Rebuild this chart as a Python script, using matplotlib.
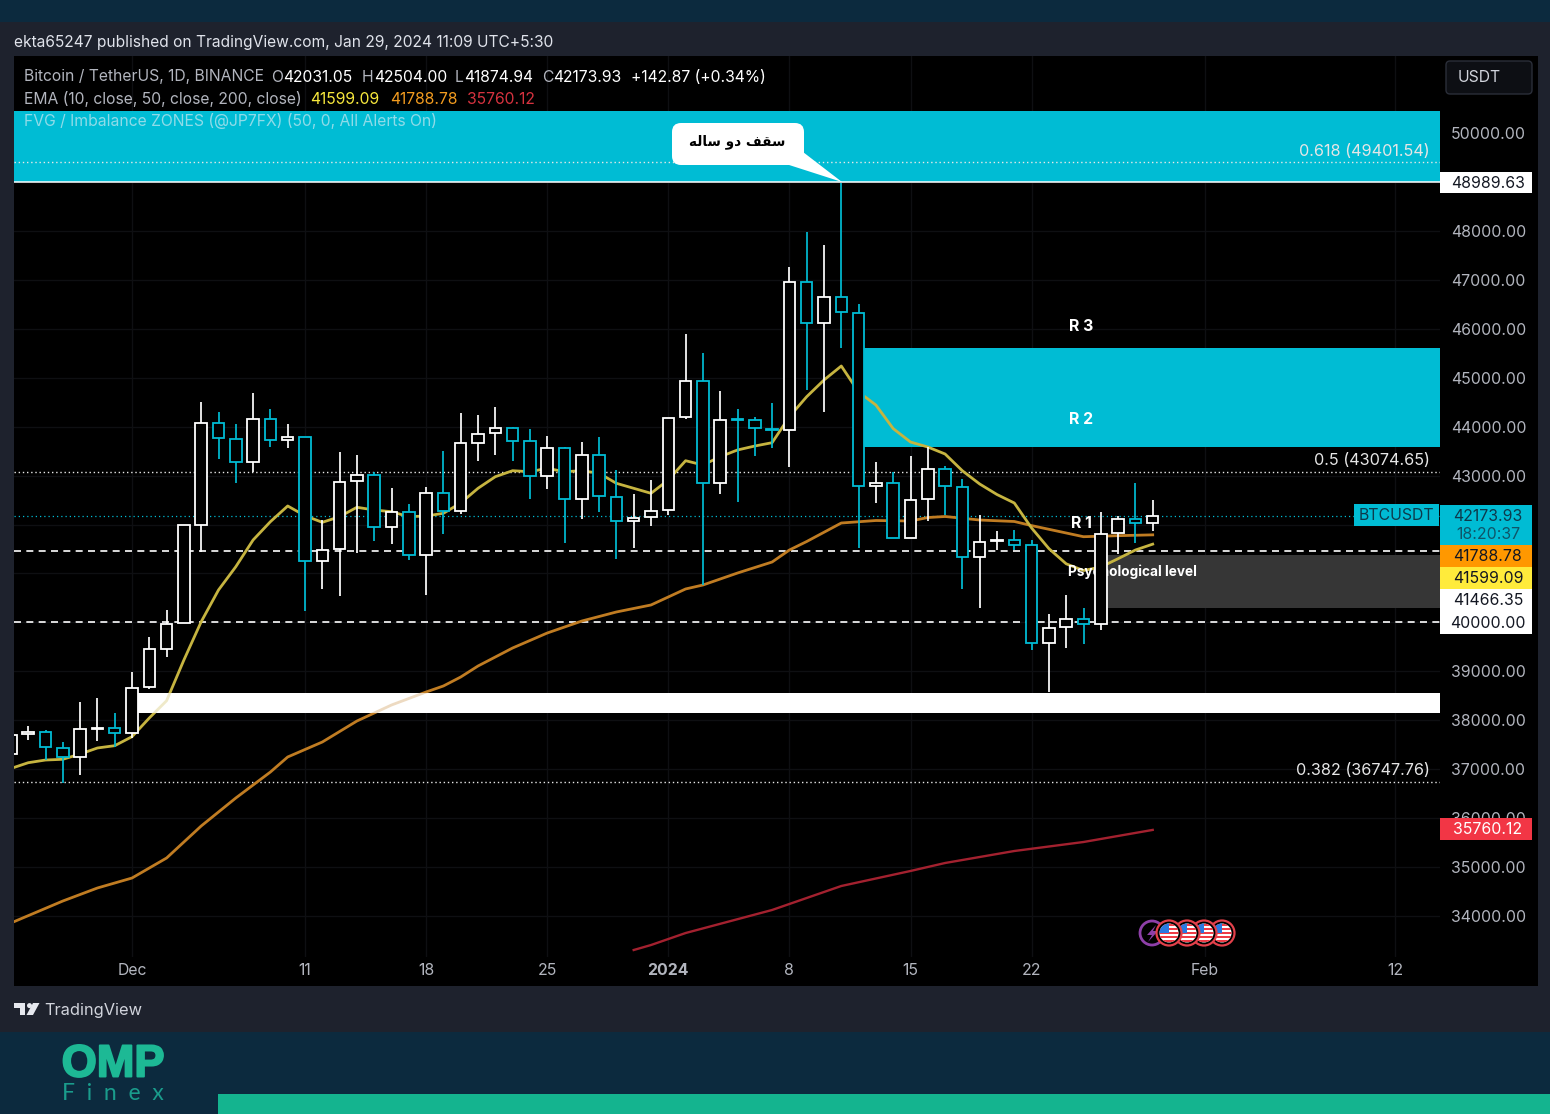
import matplotlib
matplotlib.use("Agg")
import matplotlib.pyplot as plt
import matplotlib.patheffects as pe
from matplotlib.patches import Rectangle, Circle, FancyBboxPatch, Polygon

plt.rcParams['font.family'] = ['Inter', 'DejaVu Sans']

# ---------- data ----------
days = list(range(-7, 60))
opens = [37311,37720,37767,37440,37244,37822,37836,37734,38680,39456,39982,41996,44068,43747,43284,44162,43721,43782,41261,41494,42883,43018,41943,42262,41387,42650,42276,43672,43864,43966,43700,42998,43563,42515,43414,42562,42072,42147,42290,44191,44939,42848,44156,44136,43958,43931,46949,46114,46653,46330,42787,42842,41731,42524,43135,42773,41336,41663,41688,41578,39575,39900,40071,39967,41819,42117,42031]
highs = [37801,37883,37801,37562,38380,38455,38149,38993,39708,40254,41990,44497,44293,44048,44693,44360,44048,43782,42092,43476,43427,43079,42740,42419,42762,43502,44285,44244,44407,43990,43946,43809,43590,43680,43794,43114,42618,42910,44177,45893,45499,44734,44360,44203,44489,47256,47973,47712,48970,46506,43269,43077,43394,43594,43200,42924,42186,41876,41888,41684,40175,40556,40286,42248,42164,42855,42504]
lows = [37270,37597,37188,36725,36882,37577,37460,37638,38639,39287,39982,41432,43339,42842,43079,43590,43570,40233,40683,40539,41412,41670,41602,41275,40550,41806,42215,43298,43420,43298,42515,42720,41629,42107,42256,41296,41514,41976,42195,44150,40764,42618,42454,43406,43570,43181,44749,44305,45607,41520,42440,41725,41731,42062,42199,40683,40286,41479,41479,39436,38578,39485,39555,39837,41406,41626,41875]
closes = [37699,37767,37448,37244,37816,37842,37734,38666,39450,39961,41990,44068,43762,43278,44162,43727,43782,41261,41485,42869,43018,41943,42262,41383,42650,42282,43660,43856,43966,43713,42998,43563,42515,43414,42577,42072,42133,42282,44177,44939,42854,44136,44142,43972,43931,46949,46114,46653,46342,42787,42842,41731,42509,43135,42787,41336,41647,41684,41578,39575,39885,40071,39967,41806,42117,42033,42174]

ema10_days = list(range(-7, 60))
ema10 = [37015,37133,37188,37203,37310,37434,37481,37665,38047,38400,39232,40014,40662,41138,41684,42058,42379,42180,42045,42160,42352,42297,42262,42160,42174,42229,42440,42740,42977,43100,43079,43149,43079,43100,43047,42842,42740,42638,42910,43304,43216,43386,43523,43604,43672,44203,44612,44953,45239,44708,44442,43960,43686,43584,43441,43098,42828,42613,42440,41929,41508,41197,41060,41132,41302,41479,41599]

ema50_days = [-7,-4,-2,0,2,4,6,8,9,11,13,15,17,18,19,20,22,24,26,28,30,32,33,35,37,38,39,41,43,45,46,47,49,51,52,54,55,57,59]
ema50 = [33858,34307,34573,34777,35186,35840,36412,36943,37250,37556,37985,38312,38578,38701,38884,39109,39477,39783,40028,40213,40356,40683,40764,41009,41234,41479,41653,42031,42082,42072,42143,42164,42092,42062,41978,41827,41751,41772,41789]

ema200_days = [29,30,32,37,41,45,47,51,55,59]
ema200 = [33306,33408,33653,34124,34614,34921,35084,35329,35513,35760]

price_ticks = [34000,35000,36000,37000,38000,39000,43000,44000,45000,46000,47000,48000,50000]
covered_ticks = [40000,41000,42000,49000]
tick_days = [0, 10, 17, 24, 31, 38, 45, 52, 62, 73]
tick_labels = ['Dec', '11', '18', '25', '2024', '8', '15', '22', 'Feb', '12']

fib_levels = [49401.54, 43074.65, 36747.76]
fib_names = ['0.618 (49401.54)', '0.5 (43074.65)', '0.382 (36747.76)']
dashed_levels = [41466.35, 40000.00]
last_close = 42173.93
high_line = 48989.63

zone_top = (49000, 50450)
zone_r2 = (42.3, 43594, 45607)
zone_white = (0.3, 38149, 38558)
zone_grey = (56.4, 40294, 41377)

axis_tags = [('48989.63', 182.5, 172, 193, '#ffffff', '#131722'),
             ('41788.78', 556, 545, 567, '#ff9800', '#131722'),
             ('41599.09', 578, 567, 589, '#ffeb3b', '#131722'),
             ('41466.35', 600, 589, 611, '#ffffff', '#131722'),
             ('40000.00', 622.5, 611, 634, '#ffffff', '#131722'),
             ('35760.12', 829, 818, 840, '#f23645', '#ffffff')]

# ---------- style ----------
W, H = 1550, 1114
UP, DOWN = '#ffffff', '#00bcd4'
GRID = '#0e0f12'
TXT = '#b2b5be'
FS = 11.3
AXFS = 11.4

fig = plt.figure(figsize=(W/100, H/100), dpi=100, facecolor='#1e222d')

# pixel-space backdrop
bg = fig.add_axes([0, 0, 1, 1], zorder=0)
bg.set_xlim(0, W); bg.set_ylim(H, 0); bg.axis('off')
bg.add_patch(Rectangle((0, 0), W, 22, fc='#0c2a3e', ec='none'))
bg.add_patch(Rectangle((0, 1032), W, 82, fc='#0c2a3e', ec='none'))
bg.add_patch(Rectangle((218, 1094), W-218, 20, fc='#14b48f', ec='none'))
bg.add_patch(Rectangle((14, 56), 1524, 930, fc='#000000', ec='none'))

# main price pane
L, R, T, B = 14, 1440, 56, 957
ax = fig.add_axes([L/W, 1-B/H, (R-L)/W, (B-T)/H], zorder=1, facecolor='#000000')
to_price = lambda y: 50000 + (133 - y) * 20.433
ax.set_ylim(to_price(B), to_price(T))
ax.set_xlim((L-132)/17.3, (R-132)/17.3)

ax.yaxis.tick_right()
ax.set_yticks(price_ticks)
ax.set_yticks(covered_ticks, minor=True)
ax.set_yticklabels([f'{p:.2f}' for p in price_ticks], fontsize=AXFS, color=TXT)
ax.set_xticks(tick_days)
ax.set_xticklabels(tick_labels, fontsize=AXFS, color=TXT)
ax.get_xticklabels()[4].set_fontweight('bold')
ax.tick_params(axis='both', which='both', length=0)
ax.tick_params(axis='y', pad=7.8)
ax.tick_params(axis='x', pad=4)
ax.grid(True, which='both', color=GRID, lw=1)
ax.set_axisbelow(True)
for s in ax.spines.values():
    s.set_visible(False)

x0, x1 = ax.get_xlim()
ax.axhspan(zone_top[0], zone_top[1], color=DOWN, lw=0, zorder=1)
ax.add_patch(Rectangle((zone_r2[0], zone_r2[1]), x1-zone_r2[0], zone_r2[2]-zone_r2[1], fc=DOWN, ec='none', zorder=1))
ax.add_patch(Rectangle((zone_grey[0], zone_grey[1]), x1-zone_grey[0], zone_grey[2]-zone_grey[1], fc='#363636', ec='none', zorder=1))
ax.add_patch(Rectangle((zone_white[0], zone_white[1]), x1-zone_white[0], zone_white[2]-zone_white[1], fc='#ffffff', ec='none', zorder=1))

ax.axhline(high_line, color='#ffffff', lw=1.1, zorder=2)
for lev in fib_levels:
    ax.axhline(lev, color='#e8e8e8', lw=1.0, ls=(0, (1, 2)), zorder=2)
ax.axhline(last_close, color=DOWN, lw=0.9, ls=(0, (1, 2.4)), zorder=2)
for lev in dashed_levels:
    ax.axhline(lev, color='#ffffff', lw=1.2, ls=(0, (4.2, 3.2)), zorder=2)

ax.plot(ema200_days, ema200, color='#a3212f', lw=1.7, zorder=3)
ax.plot(ema50_days, ema50, color='#c07c22', lw=2.0, zorder=3)
ax.plot(ema10_days, ema10, color='#c6b440', lw=2.0, zorder=3)
ax.add_patch(Rectangle((zone_white[0], zone_white[1]), x1-zone_white[0], zone_white[2]-zone_white[1], fc='#ffffff', alpha=0.72, ec='none', zorder=3.2))

ax.text(57.8, 41030, 'Psychological level', color='#ffffff', fontsize=9.8, fontweight='bold', ha='center', va='center', zorder=3.5)
for lab, px, pp in [('R 3', 54.86, 46050), ('R 2', 54.86, 44150), ('R 1', 54.86, 42030)]:
    ax.text(px, pp, lab, color='#ffffff', fontsize=11.4, fontweight='bold', ha='center', va='center', zorder=3.5)

for name, lev in zip(fib_names, fib_levels):
    ax.annotate(name, (1415.5/1426, lev), xycoords=('axes fraction', 'data'), xytext=(0, 2.6),
                textcoords='offset points', ha='right', va='bottom', color='#e6e6e6', fontsize=11.7, zorder=4)

# candles
up = [c >= o for o, c in zip(opens, closes)]
colors = [UP if u else DOWN for u in up]
ax.vlines(days, lows, highs, colors=colors, lw=1.25, zorder=4)
bottoms = [min(o, c) for o, c in zip(opens, closes)]
heights = [abs(c - o) for o, c in zip(opens, closes)]
ax.bar(days, heights, bottom=bottoms, width=0.66, facecolor='#000000', edgecolor=colors, linewidth=1.3, zorder=5)

# pixel-space overlay
ov = fig.add_axes([0, 0, 1, 1], zorder=2)
ov.set_xlim(0, W); ov.set_ylim(H, 0); ov.axis('off')
ov.patch.set_alpha(0)

def t(x, y, s, **kw):
    kw.setdefault('fontsize', FS)
    kw.setdefault('va', 'center')
    return ov.text(x, y, s, **kw)

t(14, 42, 'ekta65247 published on TradingView.com, Jan 29, 2024 11:09 UTC+5:30', color='#e0e3eb', fontsize=11.2)

t(24, 77, 'Bitcoin / TetherUS, 1D, BINANCE', color=TXT)
for x, s, c in [(271, 'O', TXT), (283, '42031.05', '#ffffff'), (362, 'H', TXT), (374, '42504.00', '#ffffff'),
                (455, 'L', TXT), (464, '41874.94', '#ffffff'), (542, 'C', TXT), (553, '42173.93', '#ffffff'),
                (631, '+142.87 (+0.34%)', '#ffffff')]:
    t(x, 77, s, color=c)
t(24, 99, 'EMA (10, close, 50, close, 200, close)', color=TXT)
t(310, 99, '41599.09', color='#f7e83c')
t(390, 99, '41788.78', color='#f39c1f')
t(467, 99, '35760.12', color='#d6323f')
t(24, 121, 'FVG / Imbalance ZONES (@JP7FX) (50, 0, All Alerts On)', color='#8fdbe8')

# USDT button
ov.add_patch(FancyBboxPatch((1449, 64), 80, 27, boxstyle='round,pad=3,rounding_size=4', fc='#0d0f14', ec='#2a2e39', lw=1))
t(1479, 78, 'USDT', color='#d1d4dc', ha='center')

# axis tags
for s, yc, y0, y1, fc, tc in axis_tags:
    ov.add_patch(Rectangle((1440, y0), 92, y1-y0, fc=fc, ec='none'))
    t(1488, yc+0.6, s, color=tc, ha='center', fontsize=AXFS)
ov.add_patch(Rectangle((1440, 505), 92, 40, fc=DOWN, ec='none'))
t(1488, 516.6, '42173.93', color='#0d3a4c', ha='center', fontsize=AXFS)
t(1488, 534.6, '18:20:37', color='#0f5568', ha='center', fontsize=AXFS)
ov.add_patch(Rectangle((1354, 504), 85, 22, fc=DOWN, ec='none'))
t(1396, 516, 'BTCUSDT', color='#0d3a4c', ha='center', fontsize=AXFS)

# callout
ov.add_patch(FancyBboxPatch((680, 131), 116, 26, boxstyle='round,pad=8,rounding_size=9', fc='#ffffff', ec='none'))
ov.add_patch(Polygon([(786, 164), (842, 182), (803, 152)], fc='#ffffff', ec='none'))
persian = '\uFEEA\uFEDF\uFE8E\uFEB3 \uFEED\uFEA9 \uFED2\uFED8\uFEB3'
ov.text(737, 142, persian, color='#000000', fontsize=9.8, fontweight='bold', family='DejaVu Sans', ha='center', va='center')

# event icons
purple = Circle((1152, 933), 12, fc='#000000', ec='#8e3fa8', lw=2)
ov.add_patch(purple)
ov.add_patch(Polygon([(1156, 925), (1147, 935), (1152, 935), (1148, 942), (1158, 931), (1153, 931)], fc='#8e3fa8', ec='none'))
for cx in [1222, 1204, 1187, 1169]:
    ov.add_patch(Circle((cx, 933), 12.5, fc='#000000', ec='#e2404a', lw=1.6))
    disc = Circle((cx, 933), 9.5, fc='#ffffff', ec='none')
    ov.add_patch(disc)
    for i in range(5):
        r = Rectangle((cx-10, 923.5+i*4), 20, 2, fc='#ee3b46', ec='none')
        ov.add_patch(r); r.set_clip_path(disc)
    b = Rectangle((cx-10, 923), 10, 10, fc='#2a78e0', ec='none')
    ov.add_patch(b); b.set_clip_path(disc)

# TradingView logo
ov.add_patch(Polygon([(14, 1003), (25, 1003), (25, 1015), (20, 1015), (20, 1008), (14, 1008)], fc='#e6e8ee', ec='none'))
ov.add_patch(Circle((29.5, 1005.6), 2.5, fc='#e6e8ee', ec='none'))
ov.add_patch(Polygon([(33, 1003), (39.5, 1003), (33, 1015), (26.5, 1015)], fc='#e6e8ee', ec='none'))
t(44, 1011, 'TradingView', color='#d1d4dc', fontsize=11.8)

# brand
t(113, 1065, 'OMP', color='#1db995', fontsize=32.5, fontweight='bold', family='Liberation Sans', ha='center',
  path_effects=[pe.withStroke(linewidth=1.4, foreground='#1db995')])
t(113, 1093, 'F  i  n  e  x', color='#1a9c8c', fontsize=16.5, family='Lato', ha='center')

fig.savefig('out.png', dpi=100, facecolor=fig.get_facecolor())
